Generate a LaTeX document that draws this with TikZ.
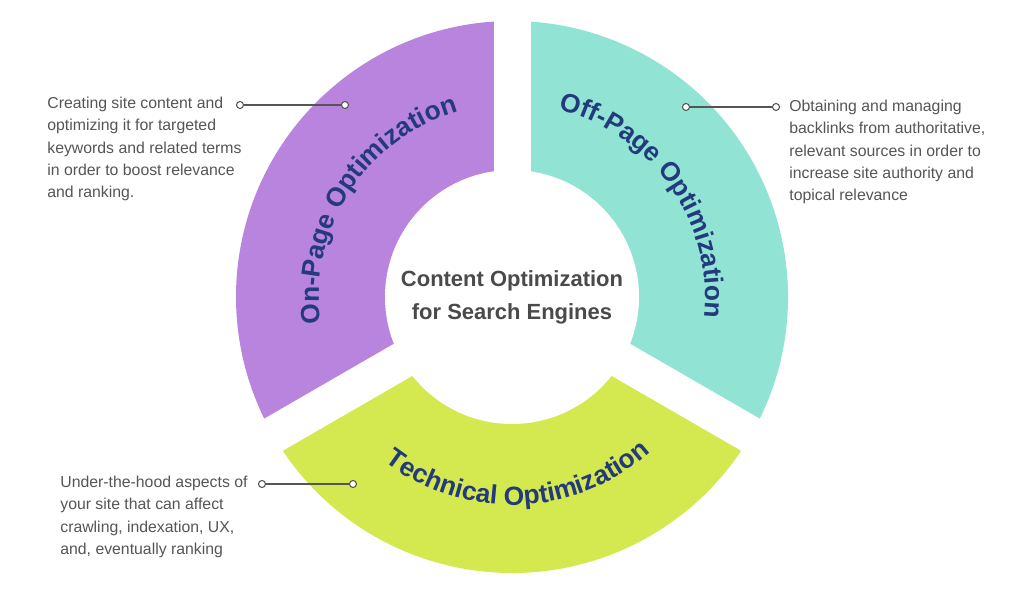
\documentclass[tikz,border=0pt]{standalone}
\usepackage{fontspec}
\setmainfont{Liberation Sans}
\usetikzlibrary{decorations.text}
\definecolor{cpurple}{HTML}{B884DE}
\definecolor{cteal}{HTML}{91E3D3}
\definecolor{clime}{HTML}{D4E94F}
\definecolor{lbl}{HTML}{233A7D}
\definecolor{ttl}{HTML}{4A4A4A}
\definecolor{body}{HTML}{555555}
\definecolor{lnk}{HTML}{555555}
\tikzset{
  bodytext/.style={anchor=north west, inner sep=0pt, align=left, text=body, font=\fontsize{9}{12.6}\selectfont},
  dotend/.style={circle, draw=lnk, fill=white, line width=0.6pt, inner sep=0pt, minimum size=4pt},
  link/.style={draw=lnk, line width=0.6pt},
  gap/.style={draw=white, line width=0.74cm},
}
\begin{document}
\begin{tikzpicture}[x=0.02cm,y=0.02cm]
\useasboundingbox (0,0) rectangle (1024,597);
\coordinate (c) at (512,300);
\fill[cpurple] (c) -- ++(90:276) arc[start angle=90,end angle=210,radius=276] -- cycle;
\fill[clime] (c) -- ++(210:276) arc[start angle=210,end angle=330,radius=276] -- cycle;
\fill[cteal] (c) -- ++(330:276) arc[start angle=-30,end angle=90,radius=276] -- cycle;
\draw[gap] (c) -- ++(90:290);
\draw[gap] (c) -- ++(210:290);
\draw[gap] (c) -- ++(330:290);
\fill[white] (c) circle[radius=127];
\node[align=center, text=ttl, font=\fontsize{12.5}{18.7}\selectfont\bfseries] (title) at (512,300) {Content Optimization\\for Search Engines};
% curved labels
\path[decorate, decoration={text along path, text align=center,
  text={|\fontsize{15}{15}\selectfont\bfseries\color{lbl}|On-Page Optimization}}]
  (c) ++(207:193) arc[start angle=207,end angle=87,radius=193];
\path[decorate, decoration={text along path, text align=center,
  text={|\fontsize{15}{15}\selectfont\bfseries\color{lbl}|Off-Page Optimization}}]
  (c) ++(95:193) arc[start angle=95,end angle=-25,radius=193];
\path[decorate, decoration={text along path, text align=center,
  text={|\fontsize{15}{15}\selectfont\bfseries\color{lbl}|Technical Optimization}}]
  (c) ++(212:208) arc[start angle=212,end angle=332,radius=208];
% callouts
\node[dotend] (a1) at (240,492) {};
\node[dotend] (a2) at (345,492) {};
\draw[link] (a1) -- (a2);
\node[bodytext] (t1) at (47,500) {Creating site content and\\optimizing it for targeted\\keywords and related terms\\in order to boost relevance\\and ranking.};
\node[dotend] (b1) at (686,490) {};
\node[dotend] (b2) at (776,490) {};
\draw[link] (b1) -- (b2);
\node[bodytext] (t2) at (789,497) {Obtaining and managing\\backlinks from authoritative,\\relevant sources in order to\\increase site authority and\\topical relevance};
\node[dotend] (d1) at (262,113) {};
\node[dotend] (d2) at (353,113) {};
\draw[link] (d1) -- (d2);
\node[bodytext] (t3) at (60,121) {Under-the-hood aspects of\\your site that can affect\\crawling, indexation, UX,\\and, eventually ranking};
\end{tikzpicture}
\end{document}
